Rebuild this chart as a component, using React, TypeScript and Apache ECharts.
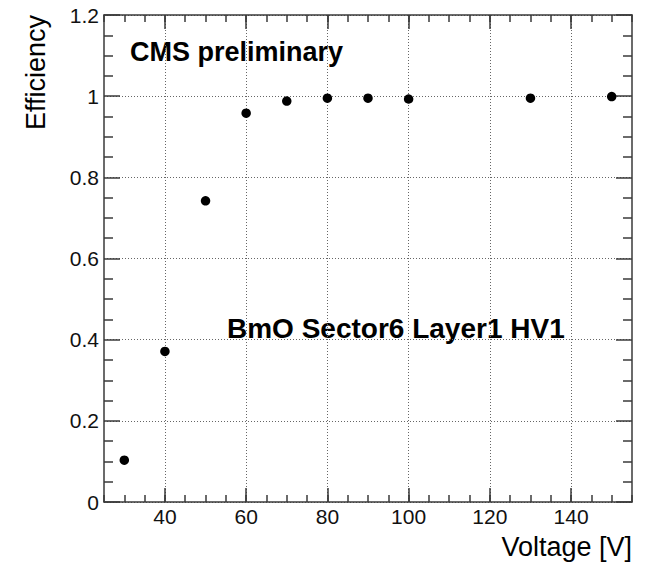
import React, { useEffect, useRef } from "react";
import * as echarts from "echarts";

// Efficiency scan versus applied high voltage
const voltages = [30, 40, 50, 60, 70, 80, 90, 100, 130, 150];
const efficiency = [0.103, 0.371, 0.742, 0.958, 0.988, 0.995, 0.995, 0.993, 0.995, 0.999];

const xMin = 25;
const xMax = 155;
const xMajorTicks = [40, 60, 80, 100, 120, 140];
const xMinorStep = 5;

const yMin = 0;
const yMax = 1.2;
const yMajorStep = 0.2;

const title = "CMS preliminary";
const subtitle = "BmO Sector6 Layer1 HV1";
const xTitle = "Voltage [V]";
const yTitle = "Efficiency";

const FONT = "'Liberation Sans', Arial, Helvetica, sans-serif";
const FRAME = "#3a3a3a";

export default function App() {
  const ref = useRef<HTMLDivElement>(null);

  useEffect(() => {
    if (!ref.current) return;
    const chart = echarts.init(ref.current, undefined, { renderer: "svg" });

    const frameLine = { show: true, lineStyle: { color: FRAME, width: 1.5 } };
    const tickStyle = { color: FRAME, width: 1.5 };
    const gridLine = { show: true, lineStyle: { color: "#666", width: 1, type: [1, 2] as number[] } };

    const option: echarts.EChartsOption = {
      animation: false,
      backgroundColor: "#ffffff",
      textStyle: { fontFamily: FONT },
      grid: { left: 104, top: 15, right: 15, bottom: 63, containLabel: false },
      xAxis: [
        {
          type: "value",
          position: "bottom",
          min: xMin,
          max: xMax,
          axisLine: frameLine,
          axisTick: { show: true, inside: true, length: 14, customValues: xMajorTicks, lineStyle: tickStyle },
          axisLabel: {
            show: true,
            customValues: xMajorTicks,
            fontSize: 21,
            fontFamily: FONT,
            color: "#111",
            margin: 4,
          },
          splitLine: gridLine,
        } as any,
        {
          type: "value",
          position: "bottom",
          min: xMin,
          max: xMax,
          interval: xMinorStep,
          axisLine: { show: false },
          axisTick: { show: true, inside: true, length: 7, lineStyle: tickStyle },
          axisLabel: { show: false },
          splitLine: { show: false },
        },
        {
          type: "value",
          position: "top",
          min: xMin,
          max: xMax,
          axisLine: frameLine,
          axisTick: { show: true, inside: true, length: 14, customValues: xMajorTicks, lineStyle: tickStyle },
          axisLabel: { show: false },
          splitLine: { show: false },
        } as any,
        {
          type: "value",
          position: "top",
          min: xMin,
          max: xMax,
          interval: xMinorStep,
          axisLine: { show: false },
          axisTick: { show: true, inside: true, length: 7, lineStyle: tickStyle },
          axisLabel: { show: false },
          splitLine: { show: false },
        },
      ],
      yAxis: [
        {
          type: "value",
          position: "left",
          min: yMin,
          max: yMax,
          interval: yMajorStep,
          axisLine: frameLine,
          axisTick: { show: true, inside: true, length: 16, lineStyle: tickStyle },
          minorTick: { show: true, splitNumber: 4, length: 9, lineStyle: tickStyle },
          axisLabel: { show: true, fontSize: 21, fontFamily: FONT, color: "#111", margin: 5 },
          splitLine: gridLine,
        },
        {
          type: "value",
          position: "right",
          min: yMin,
          max: yMax,
          interval: yMajorStep,
          axisLine: frameLine,
          axisTick: { show: true, inside: true, length: 16, lineStyle: tickStyle },
          minorTick: { show: true, splitNumber: 4, length: 9, lineStyle: tickStyle },
          axisLabel: { show: false },
          splitLine: { show: false },
        },
      ],
      series: [
        {
          type: "scatter",
          xAxisIndex: 0,
          yAxisIndex: 0,
          symbol: "circle",
          symbolSize: 9.5,
          itemStyle: { color: "#000", opacity: 1 },
          data: voltages.map((v, i) => [v, efficiency[i]]),
        },
      ],
      graphic: [
        {
          type: "text",
          left: 130,
          top: 38,
          style: { text: title, font: `bold 27px ${FONT}`, fill: "#000" },
        },
        {
          type: "text",
          left: 227,
          top: 314,
          style: { text: subtitle, font: `bold 28px ${FONT}`, fill: "#000" },
        },
        {
          type: "text",
          x: 632,
          y: 547,
          style: { text: xTitle, font: `27px ${FONT}`, fill: "#000", align: "right", verticalAlign: "middle" },
        },
        {
          type: "text",
          x: 36,
          y: 15,
          rotation: Math.PI / 2,
          style: { text: yTitle, font: `27px ${FONT}`, fill: "#000", align: "right", verticalAlign: "middle" },
        },
      ],
    };

    chart.setOption(option);
    return () => chart.dispose();
  }, []);

  return (
    <div
      ref={ref}
      style={{ position: "fixed", left: 0, top: 0, width: 647, height: 565, background: "#fff" }}
    />
  );
}
